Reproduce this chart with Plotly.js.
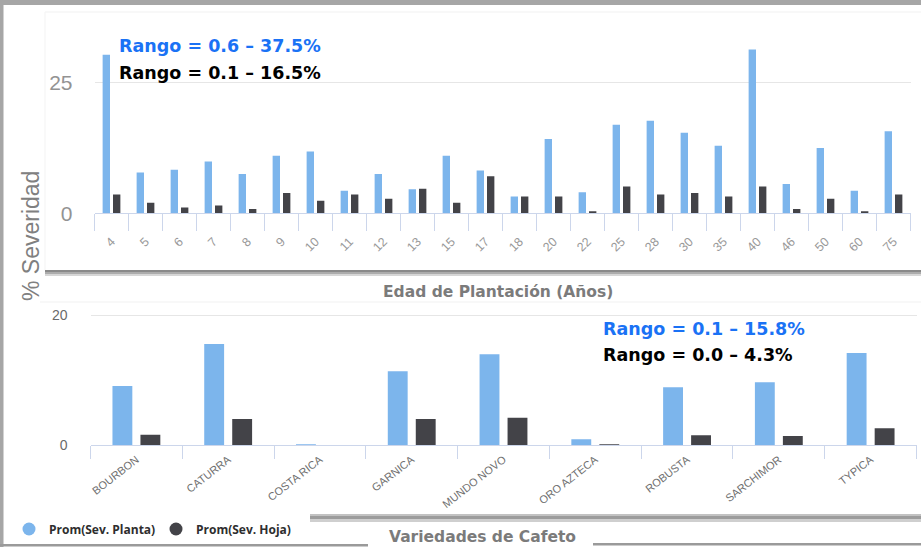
<!DOCTYPE html>
<html><head><meta charset="utf-8">
<script src="https://cdn.plot.ly/plotly-3.0.1.min.js"></script>
<style>html,body{margin:0;padding:0;background:#fff;}#chart{width:921px;height:547px;}</style>
</head><body><div id="chart"></div>
<script>
// ---- data ----
const edades = ['4','5','6','7','8','9','10','11','12','13','15','17','18','20','22','25','28','30','35','40','46','50','60','75'];
const edadPlanta = [30.3,7.8,8.3,9.9,7.5,11.0,11.8,4.3,7.5,4.6,11.0,8.2,3.2,14.2,4.0,16.9,17.7,15.4,12.9,31.3,5.6,12.5,4.3,15.7];
const edadHoja = [3.6,2.0,1.1,1.5,0.8,3.9,2.4,3.6,2.8,4.7,2.0,7.1,3.2,3.2,0.4,5.1,3.6,3.9,3.2,5.1,0.8,2.8,0.4,3.6];
const variedades = ['BOURBON','CATURRA','COSTA RICA','GARNICA','MUNDO NOVO','ORO AZTECA','ROBUSTA','SARCHIMOR','TYPICA'];
const varPlanta = [9.1,15.6,0.1,11.4,14.0,0.9,8.9,9.7,14.2];
const varHoja = [1.6,4.0,0.0,4.0,4.2,0.1,1.5,1.4,2.6];
const serieNames = ['Prom(Sev. Planta)','Prom(Sev. Hoja)'];
const rangosEdad = ['Rango = 0.6 – 37.5%','Rango = 0.1 – 16.5%'];
const rangosVar = ['Rango = 0.1 – 15.8%','Rango = 0.0 – 4.3%'];
const yTicksTop = [0,25];
const yTicksBottom = [0,20];

// ---- helpers ----
const W = 921, H = 547;
const px = x => x / W;
const py = y => 1 - y / H;
const C1 = '#7cb5ec', C2 = '#434348';

const traces = [
  {type:'bar', x:edades, y:edadPlanta, xaxis:'x', yaxis:'y', marker:{color:C1}, showlegend:false, name:serieNames[0]},
  {type:'bar', x:edades, y:edadHoja, xaxis:'x', yaxis:'y', marker:{color:C2}, showlegend:false, name:serieNames[1]},
  {type:'bar', x:variedades, y:varPlanta, xaxis:'x2', yaxis:'y2', marker:{color:C1}, showlegend:false, name:serieNames[0]},
  {type:'bar', x:variedades, y:varHoja, xaxis:'x2', yaxis:'y2', marker:{color:C2}, showlegend:false, name:serieNames[1]},
  {type:'scatter', mode:'markers', x:[null], y:[null], xaxis:'x2', yaxis:'y2', name:serieNames[0], marker:{color:C1, size:13, symbol:'circle'}, showlegend:true},
  {type:'scatter', mode:'markers', x:[null], y:[null], xaxis:'x2', yaxis:'y2', name:serieNames[1], marker:{color:C2, size:13, symbol:'circle'}, showlegend:true}
];

function rect(x0,y0,x1,y1,color,layer){
  return {type:'rect', xref:'paper', yref:'paper', x0:px(x0), x1:px(x1), y0:py(y1), y1:py(y0), fillcolor:color, line:{width:0}, layer:layer||'above'};
}
function ann(text,x,y,opts){
  return Object.assign({text:text, xref:'paper', yref:'paper', x:px(x), y:py(y), showarrow:false, xanchor:'left', yanchor:'middle'}, opts);
}

const shapes = [
  rect(45,11.5,921,12.5,'#f1f1f1','below'),
  rect(44.5,12,45.5,270,'#f3f3f3','below'),
  rect(40,301.5,921,302.5,'#f1f1f1','below'),
  // top panel shadow
  rect(45,270,921,272,'#8a8a8a'),
  rect(45,272,921,274,'#acacac'),
  rect(45,274,921,276,'#d6d6d6'),
  // bottom panel shadow
  rect(310,514,921,516,'#c2c2c2'),
  rect(310,516,921,519,'#9c9c9c'),
  rect(310,519,921,522,'#cfcfcf'),
  // frame
  rect(0,0,921,5,'#a6a6a6'),
  rect(0,0,3.5,547,'#a6a6a6'),
  rect(0,544,368,546.5,'#9a9a9a'),
  rect(593,543,921,545.5,'#9a9a9a')
];

const boldFont = (size,color) => ({family:'DejaVu Sans', size:size, color:color});
const annotations = [
  ann('<b>'+rangosEdad[0]+'</b>',117,46,{font:boldFont(17.5,'#1a72f5')}),
  ann('<b>'+rangosEdad[1]+'</b>',117,73,{font:boldFont(17.5,'#000000')}),
  ann('<b>'+rangosVar[0]+'</b>',601,329,{font:boldFont(17.5,'#1a72f5')}),
  ann('<b>'+rangosVar[1]+'</b>',601,355,{font:boldFont(17.5,'#000000')}),
  ann('<b>Edad de Plantación (Años)</b>',498,292,{xanchor:'center', font:boldFont(15.5,'#7b7b7b')}),
  ann('<b>Variedades de Cafeto</b>',482,537,{xanchor:'center', font:boldFont(15.5,'#7b7b7b')}),
  ann('% Severidad',31,236,{xanchor:'center', textangle:-90, font:{family:'Liberation Sans', size:23, color:'#808080'}})
];

const layout = {
  width:W, height:H,
  margin:{l:0,r:0,t:0,b:0},
  paper_bgcolor:'#ffffff', plot_bgcolor:'rgba(0,0,0,0)',
  barmode:'group', bargap:0.39, bargroupgap:0.29,
  hovermode:false,
  showlegend:true,
  legend:{orientation:'h', x:px(9), y:py(529), xanchor:'left', yanchor:'middle', bgcolor:'rgba(0,0,0,0)',
          font:{family:'Open Sans', size:12, color:'#2e2e2e', weight:'bold'}, entrywidth:102, entrywidthmode:'pixels'},
  xaxis:{domain:[px(94.5),px(910.5)], anchor:'y', type:'category', tickson:'boundaries', ticks:'outside', ticklen:17,
         tickcolor:'#ccd6eb', tickwidth:1, showline:true, linecolor:'#ccd6eb', linewidth:1, showgrid:false,
         tickangle:-45, ticklabelstandoff:15, tickfont:{family:'Liberation Sans', size:12.5, color:'#999999'}, fixedrange:true},
  yaxis:{domain:[py(213.3),py(12)], anchor:'x', range:[0,38.47], tickvals:yTicksTop, showgrid:true, gridcolor:'#e6e6e6',
         zeroline:false, showline:false, ticks:'', ticklabelstandoff:21,
         tickfont:{family:'Liberation Sans', size:21, color:'#939393'}, fixedrange:true},
  xaxis2:{domain:[px(90.5),px(916.5)], anchor:'y2', type:'category', tickson:'boundaries', ticks:'outside', ticklen:13,
          tickcolor:'#ccd6eb', tickwidth:1, showline:true, linecolor:'#ccd6eb', linewidth:1, showgrid:false,
          tickangle:-38, ticklabelstandoff:3, tickfont:{family:'Liberation Sans', size:11, color:'#707070'}, fixedrange:true},
  yaxis2:{domain:[py(445),py(302)], anchor:'x2', range:[0,22.08], tickvals:yTicksBottom, showgrid:true, gridcolor:'#e6e6e6',
          zeroline:false, showline:false, ticks:'', ticklabelstandoff:22,
          tickfont:{family:'Liberation Sans', size:14, color:'#6a6a6a'}, fixedrange:true},
  shapes:shapes,
  annotations:annotations
};

Plotly.newPlot('chart', traces, layout, {staticPlot:true, displayModeBar:false});
</script>
</body></html>
